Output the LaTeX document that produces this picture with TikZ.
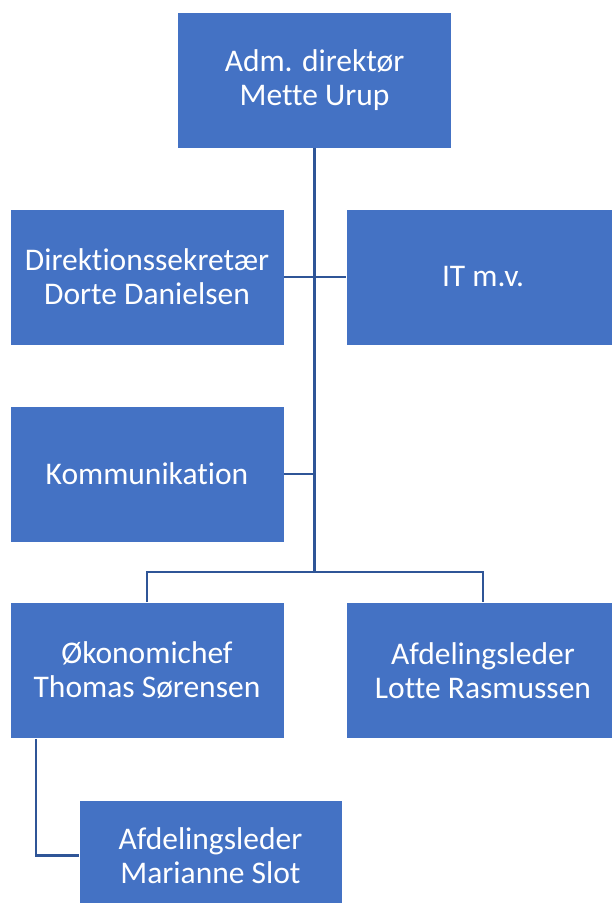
\documentclass[tikz,border=0pt]{standalone}
\usepackage{fontspec}
\setmainfont{Carlito}[RawFeature=-liga]
\definecolor{boxblue}{HTML}{4472C4}
\definecolor{lineblue}{HTML}{2F5597}
\begin{document}
\begin{tikzpicture}[x=1pt,y=-1pt,
  orgbox/.style={rectangle, fill=boxblue, draw=white, line width=0.6pt, text=white,
    minimum width=274pt, minimum height=136pt, inner sep=0pt, align=center,
    font=\fontsize{31.5}{34}\selectfont},
  conn/.style={draw=lineblue, line width=2.6pt}]
\useasboundingbox (0,0) rectangle (611,903);
\node[orgbox] (top) at (314.5,80) {Adm. direktør\\Mette Urup};
\node[orgbox] (dir) at (147,277) {Direktionssekretær\\Dorte Danielsen};
\node[orgbox] (it) at (483,277) {IT m.v.};
\node[orgbox] (komm) at (147,474) {Kommunikation};
\node[orgbox] (oko) at (147,670.5) {Økonomichef\\Thomas Sørensen};
\node[orgbox] (lotte) at (483,670.5) {Afdelingsleder\\Lotte Rasmussen};
\node[orgbox, minimum width=263pt, minimum height=111pt] (mar) at (210.5,855.5) {Afdelingsleder\\Marianne Slot};
\coordinate (spine) at (314.5,572);
\coordinate (mx) at (36,0);
\draw[conn] (top.south) -- (spine);
\draw[conn] (dir.east) -- (it.west);
\draw[conn] (komm.east) -- (komm.east -| spine);
\draw[conn] (oko.north) |- (spine) -| (lotte.north);
\draw[conn] (oko.south -| mx) |- (mar.west);
\end{tikzpicture}
\end{document}
